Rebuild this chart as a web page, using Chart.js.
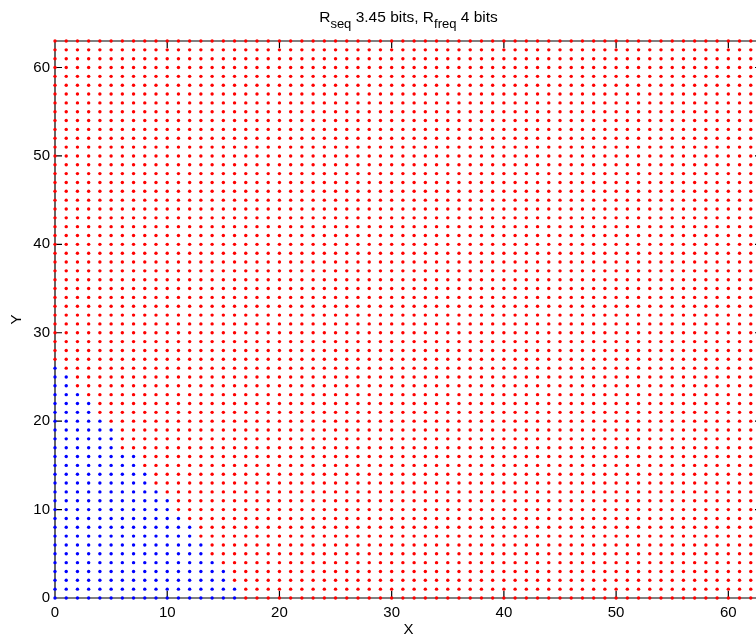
<!DOCTYPE html>
<html><head><meta charset="utf-8">
<script src="https://cdn.jsdelivr.net/npm/chart.js@4/dist/chart.umd.min.js"></script>
<style>html,body{margin:0;padding:0;overflow:hidden;background:#fff;width:756px;height:637px}canvas{display:block}</style>
</head><body>
<canvas id="c" width="780" height="637" style="width:780px;height:637px"></canvas>
<script>
// Grid values (both axes)
const gridValues = [0,1,2,3,4,5,6,7,8,9,10,11,12,13,14,15,16,17,18,19,20,21,22,23,24,25,26,27,28,29,30,31,
  32,33,34,35,36,37,38,39,40,41,42,43,44,45,46,47,48,49,50,51,52,53,54,55,56,57,58,59,60,61,62,63];
// Tick labels
const xTickValues = [0,10,20,30,40,50,60];
const yTickValues = [0,10,20,30,40,50,60];
// Highest Y of the blue points in each column X = 0..16 (no blue beyond)
const blueMaxY = [26,25,23,22,20,19,16,16,14,12,11,9,8,6,4,3,1];
// Title parts: [text, isSubscript]
const titleParts = [["R",false],["seq",true],[" 3.45 bits, R",false],["freq",true],[" 4 bits",false]];
const xAxisLabel = "X";
const yAxisLabel = "Y";

const FONT = "'Liberation Sans', Arial, Helvetica, sans-serif";

const bluePts = [], redPts = [];
for (const xv of gridValues) {
  const lim = xv < blueMaxY.length ? blueMaxY[xv] : -1;
  for (const yv of gridValues) {
    (yv <= lim ? bluePts : redPts).push({x: xv, y: yv});
  }
}

const framePlugin = {
  id: 'frame',
  beforeDatasetsDraw(chart) {
    const {ctx, chartArea: a, scales: {x, y}} = chart;
    const tl = 7;
    ctx.save();
    ctx.strokeStyle = '#000';
    ctx.lineWidth = 1.2;
    ctx.beginPath();
    ctx.moveTo(a.left, a.top); ctx.lineTo(a.right, a.top); ctx.lineTo(a.right, a.bottom);
    ctx.lineTo(a.left, a.bottom); ctx.closePath();
    x.ticks.forEach(t => {
      const px = x.getPixelForValue(t.value);
      ctx.moveTo(px, a.bottom); ctx.lineTo(px, a.bottom - tl);
      ctx.moveTo(px, a.top); ctx.lineTo(px, a.top + tl);
    });
    y.ticks.forEach(t => {
      const py = y.getPixelForValue(t.value);
      ctx.moveTo(a.left, py); ctx.lineTo(a.left + tl, py);
      ctx.moveTo(a.right, py); ctx.lineTo(a.right - tl, py);
    });
    ctx.stroke();
    ctx.restore();
  },
  afterDraw(chart) {
    const {ctx, chartArea: a} = chart;
    const mainF = '15.5px ' + FONT, subF = '13px ' + FONT;
    ctx.save();
    ctx.fillStyle = '#000';
    ctx.textBaseline = 'alphabetic';
    ctx.textAlign = 'left';
    let total = 0;
    const widths = titleParts.map(([t, s]) => { ctx.font = s ? subF : mainF; const w = ctx.measureText(t).width; total += w; return w; });
    let xPos = (a.left + a.right) / 2 - total / 2;
    titleParts.forEach(([t, s], i) => {
      ctx.font = s ? subF : mainF;
      ctx.fillText(t, xPos, s ? 27.5 : 22);
      xPos += widths[i];
    });
    ctx.restore();
  }
};

new Chart(document.getElementById('c'), {
  type: 'scatter',
  data: {
    datasets: [
      {data: redPts, backgroundColor: '#ff0000', borderWidth: 0, pointRadius: 1.7, clip: false},
      {data: bluePts, backgroundColor: '#0000ff', borderWidth: 0, pointRadius: 1.7, clip: false}
    ]
  },
  options: {
    responsive: false,
    animation: false,
    events: [],
    layout: {padding: {top: 41, right: 18, left: 0, bottom: 0}},
    plugins: {legend: {display: false}, tooltip: {enabled: false}, title: {display: false}},
    scales: {
      x: {
        type: 'linear', min: 0, max: 63,
        afterBuildTicks: s => { s.ticks = xTickValues.map(v => ({value: v})); },
        afterFit: s => { s.height = 39; },
        grid: {display: false}, border: {display: false},
        ticks: {color: '#000', font: {family: FONT, size: 15}, padding: -2, maxRotation: 0, autoSkip: false},
        title: {display: true, text: xAxisLabel, color: '#000', font: {family: FONT, size: 15}, padding: {top: 0, bottom: -2}}
      },
      y: {
        type: 'linear', min: 0, max: 63,
        afterBuildTicks: s => { s.ticks = yTickValues.map(v => ({value: v})); },
        afterFit: s => { s.width = 55; },
        grid: {display: false}, border: {display: false},
        ticks: {color: '#000', font: {family: FONT, size: 15}, padding: -3, autoSkip: false},
        title: {display: true, text: yAxisLabel, color: '#000', font: {family: FONT, size: 15}, padding: {top: 8, bottom: 0}}
      }
    }
  },
  plugins: [framePlugin]
});
</script>
</body></html>
